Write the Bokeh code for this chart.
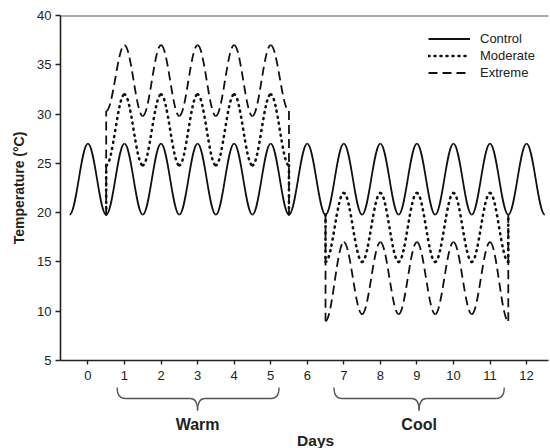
import numpy as np
from bokeh.plotting import figure
from bokeh.models import Range1d, Legend, LegendItem, Span, FixedTicker
from bokeh.layouts import column
from bokeh.embed import file_html
from bokeh.resources import INLINE
from bokeh.core.properties import value

# ---------------- data ----------------
control_day = [-0.5, 0.0, 0.5, 1.0, 1.5, 2.0, 2.5, 3.0, 3.5, 4.0, 4.5, 5.0, 5.5,
               6.0, 6.5, 7.0, 7.5, 8.0, 8.5, 9.0, 9.5, 10.0, 10.5, 11.0, 11.5, 12.0, 12.5]
control_temp = [19.8, 27.0, 19.8, 27.0, 19.8, 27.0, 19.8, 27.0, 19.8, 27.0, 19.8, 27.0, 19.8,
                27.0, 19.8, 27.0, 19.8, 27.0, 19.8, 27.0, 19.8, 27.0, 19.8, 27.0, 19.8, 27.0, 19.8]

warm_day = [0.5, 0.5, 1.0, 1.5, 2.0, 2.5, 3.0, 3.5, 4.0, 4.5, 5.0, 5.5, 5.5]
moderate_warm_temp = [19.8, 24.8, 32.0, 24.8, 32.0, 24.8, 32.0, 24.8, 32.0, 24.8, 32.0, 24.8, 19.8]
extreme_warm_temp = [19.8, 30.3, 37.0, 29.8, 37.0, 29.8, 37.0, 29.8, 37.0, 29.8, 37.0, 30.3, 19.8]

cool_day = [6.5, 6.5, 7.0, 7.5, 8.0, 8.5, 9.0, 9.5, 10.0, 10.5, 11.0, 11.5, 11.5]
moderate_cool_temp = [19.8, 15.0, 22.0, 15.0, 22.0, 15.0, 22.0, 15.0, 22.0, 15.0, 22.0, 15.0, 19.8]
extreme_cool_temp = [19.8, 9.0, 17.0, 9.7, 17.0, 9.7, 17.0, 9.7, 17.0, 9.7, 17.0, 9.0, 19.8]

x_ticks = [0, 1, 2, 3, 4, 5, 6, 7, 8, 9, 10, 11, 12]
y_ticks = [5, 10, 15, 20, 25, 30, 35, 40]
x_min, x_max = -0.75, 12.6
y_min, y_max = 5, 40

period_names = ["Warm", "Cool"]
period_left = [0.8, 6.73]
period_right = [5.23, 11.39]
period_center = [3.0, 9.06]

FONT = "Liberation Sans"


def bezier_parts(days_list, temps_list):
    """Half-cycle pieces between successive read extremes, horizontal tangents at extremes."""
    k = 1 - 2 / np.pi
    d = dict(x0=[], y0=[], x1=[], y1=[], cx0=[], cy0=[], cx1=[], cy1=[])
    for days, temps in zip(days_list, temps_list):
        for i in range(len(days) - 1):
            x0, y0, x1, y1 = days[i], temps[i], days[i + 1], temps[i + 1]
            dx = x1 - x0
            d["x0"].append(x0); d["y0"].append(y0)
            d["x1"].append(x1); d["y1"].append(y1)
            if dx == 0:
                d["cx0"].append(x0); d["cy0"].append(y0)
                d["cx1"].append(x1); d["cy1"].append(y1)
            else:
                d["cx0"].append(x0 + k * dx); d["cy0"].append(y0)
                d["cx1"].append(x1 - k * dx); d["cy1"].append(y1)
    return d


x_range = Range1d(x_min, x_max)

p = figure(width=550, height=385, x_range=x_range, y_range=Range1d(y_min, y_max),
           output_backend="svg", toolbar_location=None,
           min_border_left=60, min_border_right=2, min_border_top=15, min_border_bottom=25)
p.outline_line_color = None
p.xgrid.visible = False
p.ygrid.visible = False
p.background_fill_color = "white"
p.border_fill_color = "white"

r_ctrl = p.bezier(source=bezier_parts([control_day], [control_temp]),
                  x0="x0", y0="y0", x1="x1", y1="y1", cx0="cx0", cy0="cy0", cx1="cx1", cy1="cy1",
                  line_color="#111111", line_width=1.8)
r_mod = p.bezier(source=bezier_parts([warm_day, cool_day], [moderate_warm_temp, moderate_cool_temp]),
                 x0="x0", y0="y0", x1="x1", y1="y1", cx0="cx0", cy0="cy0", cx1="cx1", cy1="cy1",
                 line_color="#111111", line_width=2.6, line_dash="1 5", line_cap="round")
r_ext = p.bezier(source=bezier_parts([warm_day, cool_day], [extreme_warm_temp, extreme_cool_temp]),
                 x0="x0", y0="y0", x1="x1", y1="y1", cx0="cx0", cy0="cy0", cx1="cx1", cy1="cy1",
                 line_color="#111111", line_width=1.8, line_dash="9 5")

p.add_layout(Span(location=y_max, dimension="width", line_color="#555555", line_width=2))

for ax in (p.xaxis[0], p.yaxis[0]):
    ax.axis_line_color = "#222222"
    ax.axis_line_width = 1.6
    ax.major_tick_line_color = "#222222"
    ax.major_tick_line_width = 1.4
    ax.major_tick_in = 0
    ax.minor_tick_line_color = None
    ax.major_label_text_font = FONT
    ax.major_label_text_font_size = "13px"
    ax.major_label_text_color = "#222222"

p.xaxis[0].ticker = FixedTicker(ticks=x_ticks)
p.xaxis[0].major_tick_out = 4
p.xaxis[0].major_label_standoff = 6
p.yaxis[0].ticker = FixedTicker(ticks=y_ticks)
p.yaxis[0].major_tick_out = 5
p.yaxis[0].major_label_standoff = 4
p.yaxis[0].axis_label = "Temperature (°C)"
p.yaxis[0].axis_label_text_font = FONT
p.yaxis[0].axis_label_text_font_size = "14px"
p.yaxis[0].axis_label_text_font_style = "bold"
p.yaxis[0].axis_label_text_color = "#222222"
p.yaxis[0].axis_label_standoff = 7

legend = Legend(items=[LegendItem(label="Control", renderers=[r_ctrl]),
                       LegendItem(label="Moderate", renderers=[r_mod]),
                       LegendItem(label="Extreme", renderers=[r_ext])],
                location=(368, 279), orientation="vertical",
                border_line_color=None, background_fill_alpha=0,
                glyph_width=42, glyph_height=17, label_height=17,
                label_standoff=10, spacing=0, padding=0, margin=0,
                label_text_font=FONT, label_text_font_size="13px",
                label_text_color="#222222")
p.add_layout(legend)

# ---------------- lower panel: braces and labels ----------------
b = figure(width=550, height=63, x_range=x_range, y_range=Range1d(63, 0),
           output_backend="svg", toolbar_location=None,
           x_axis_location=None, y_axis_location=None,
           min_border_left=60, min_border_right=2, min_border_top=0, min_border_bottom=0)
b.outline_line_color = None
b.xgrid.visible = False
b.ygrid.visible = False

top_y, mid_y, tip_y = 2.0, 13.0, 25.0
r_end, r_mid = 0.22, 0.2
q = dict(x0=[], y0=[], x1=[], y1=[], cx=[], cy=[])
seg = dict(x0=[], y0=[], x1=[], y1=[])
for xl, xr, xc in zip(period_left, period_right, period_center):
    for (ax0, ay0, ax1, ay1, acx, acy) in [
        (xl, top_y, xl + r_end, mid_y, xl, mid_y),
        (xc - r_mid, mid_y, xc, tip_y, xc, mid_y),
        (xc, tip_y, xc + r_mid, mid_y, xc, mid_y),
        (xr - r_end, mid_y, xr, top_y, xr, mid_y),
    ]:
        q["x0"].append(ax0); q["y0"].append(ay0); q["x1"].append(ax1); q["y1"].append(ay1)
        q["cx"].append(acx); q["cy"].append(acy)
    seg["x0"] += [xl + r_end, xc + r_mid]
    seg["x1"] += [xc - r_mid, xr - r_end]
    seg["y0"] += [mid_y, mid_y]
    seg["y1"] += [mid_y, mid_y]

b.quadratic(source=q, x0="x0", y0="y0", x1="x1", y1="y1", cx="cx", cy="cy",
            line_color="#555555", line_width=1.3)
b.segment(source=seg, x0="x0", y0="y0", x1="x1", y1="y1", line_color="#555555", line_width=1.3)

b.text(x=period_center, y=[39, 39], text=period_names,
       text_font=value(FONT), text_font_size="16px", text_font_style="bold",
       text_align="center", text_baseline="middle", text_color="#222222")
b.text(x=[6.23], y=[55], text=["Days"],
       text_font=value(FONT), text_font_size="15.5px", text_font_style="bold",
       text_align="center", text_baseline="middle", text_color="#222222")

layout = column(p, b, spacing=0)
open("out.html", "w").write(file_html(layout, INLINE))
